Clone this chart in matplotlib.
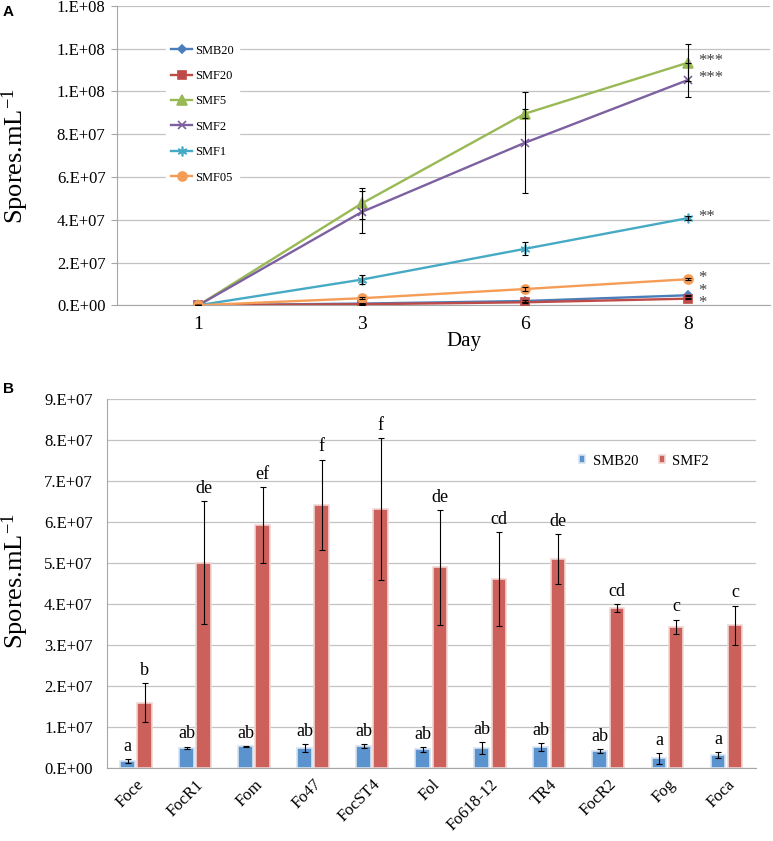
import matplotlib.pyplot as plt
import numpy as np

plt.rcParams['font.family'] = 'Liberation Serif'
plt.rcParams['mathtext.default'] = 'regular'

# panel A - spores per day
days = ['1', '3', '6', '8']
smb20 = [0, 0.08e7, 0.20e7, 0.47e7]
smf20 = [0, 0.05e7, 0.14e7, 0.31e7]
smf5 = [0, 4.76e7, 8.96e7, 11.35e7]
smf2 = [0, 4.36e7, 7.60e7, 10.54e7]
smf1 = [0, 1.20e7, 2.64e7, 4.08e7]
smf05 = [0, 0.33e7, 0.76e7, 1.22e7]

smb20_err = [0, 0.02e7, 0.03e7, 0.03e7]
smf20_err = [0, 0.02e7, 0.03e7, 0.03e7]
smf5_err = [0, 0.72e7, 0.20e7, 0.85e7]
smf2_err = [0, 1.00e7, 2.36e7, 0.78e7]
smf1_err = [0, 0.22e7, 0.30e7, 0.10e7]
smf05_err = [0, 0.05e7, 0.08e7, 0.05e7]

stars = ['*', '*', '***', '***', '**', '*']
star_dy = [3, -3, 1, 1, 1, 1]
a_names = ['SMB20', 'SMF20', 'SMF5', 'SMF2', 'SMF1', 'SMF05']
a_yticklabels = ['0.E+00', '2.E+07', '4.E+07', '6.E+07', '8.E+07', '1.E+08', '1.E+08', '1.E+08']

# panel B - strains
strains = ['Foce', 'FocR1', 'Fom', 'Fo47', 'FocST4', 'Fol', 'Fo618-12', 'TR4', 'FocR2', 'Fog', 'Foca']
b_smb20 = [0.17e7, 0.50e7, 0.54e7, 0.50e7, 0.54e7, 0.46e7, 0.50e7, 0.52e7, 0.42e7, 0.24e7, 0.32e7]
b_smb20_err = [0.05e7, 0.03e7, 0.01e7, 0.10e7, 0.05e7, 0.05e7, 0.14e7, 0.10e7, 0.04e7, 0.14e7, 0.07e7]
b_smf2 = [1.60e7, 5.02e7, 5.93e7, 6.43e7, 6.33e7, 4.90e7, 4.62e7, 5.10e7, 3.91e7, 3.45e7, 3.49e7]
b_smf2_err = [0.48e7, 1.50e7, 0.93e7, 1.10e7, 1.73e7, 1.40e7, 1.15e7, 0.61e7, 0.10e7, 0.18e7, 0.48e7]
letters_smb20 = ['a', 'ab', 'ab', 'ab', 'ab', 'ab', 'ab', 'ab', 'ab', 'a', 'a']
letters_smf2 = ['b', 'de', 'ef', 'f', 'f', 'de', 'cd', 'de', 'cd', 'c', 'c']
b_yticklabels = ['0.E+00', '1.E+07', '2.E+07', '3.E+07', '4.E+07', '5.E+07', '6.E+07', '7.E+07', '8.E+07', '9.E+07']

grid_col = '#C3C3C3'
axis_col = '#A6A6A6'

fig = plt.figure(figsize=(7.73, 8.41), dpi=100)
ax1 = fig.add_axes([0.151, 0.637, 0.845, 0.356])
ax2 = fig.add_axes([0.138, 0.0864, 0.840, 0.4387])

# ---- A ----
x = np.arange(len(days))
series = [
    (smb20, smb20_err, '#4A7EBB', 'D', 4.5),
    (smf20, smf20_err, '#BE4B48', 's', 6),
    (smf5, smf5_err, '#98B954', '^', 6.5),
    (smf2, smf2_err, '#7D60A0', 'x', 6),
    (smf1, smf1_err, '#46AAC5', (6, 2, 0), 7),
    (smf05, smf05_err, '#F59D56', 'o', 6.5),
]
for i, (vals, err, col, mk, ms) in enumerate(series):
    ax1.plot(x, vals, color=col, marker=mk, ms=ms, mec=col, mfc=col, mew=1.2,
             lw=1.7, label=a_names[i], zorder=3 + i * 0.1)
    ax1.errorbar(x, vals, yerr=err, fmt='none', ecolor='black', elinewidth=0.8,
                 capsize=2.5, capthick=0.8, zorder=4)
    ax1.annotate(stars[i], (x[-1], vals[-1]), xytext=(7, star_dy[i]), textcoords='offset points',
                 ha='left', va='center', fontsize=12, color='#404040')

ax1.set_xlim(-0.5, 3.5)
ax1.set_ylim(0, 1.4e8)
ax1.set_yticks(np.arange(0, 1.41e8, 2e7))
ax1.set_yticklabels(a_yticklabels, fontsize=12)
ax1.set_xticks(x)
ax1.set_xticklabels(days, fontsize=14)
ax1.tick_params(axis='x', length=0, pad=8)
ax1.tick_params(axis='y', length=4, color=axis_col, pad=4)
ax1.yaxis.grid(True, color=grid_col, lw=0.9)
ax1.set_axisbelow(True)
for s in ['top', 'right']:
    ax1.spines[s].set_visible(False)
for s in ['left', 'bottom']:
    ax1.spines[s].set_color(axis_col)
ax1.set_ylabel('Spores.mL$^{-1}$', fontsize=19)
ax1.yaxis.set_label_coords(-0.132, 0.5)
ax1.set_xlabel('Day', fontsize=15)
ax1.xaxis.set_label_coords(0.531, -0.088)
leg = ax1.legend(loc='upper left', bbox_to_anchor=(0.066, 0.908), fontsize=9,
                 frameon=True, facecolor='white', edgecolor='white', framealpha=1,
                 fancybox=False, handlelength=1.7, handletextpad=0.2,
                 labelspacing=1.07, borderpad=0.4)

# ---- B ----
xb = np.arange(len(strains))
w = 0.25
err_kw = dict(ecolor='black', elinewidth=0.8, capsize=2.5, capthick=0.8)
ax2.bar(xb - 0.145, b_smb20, w, color='#5A93CE', edgecolor='#D8E4F2', lw=1.2,
        yerr=b_smb20_err, error_kw=err_kw, label='SMB20')
ax2.bar(xb + 0.145, b_smf2, w, color='#CC615C', edgecolor='#F1D6D5', lw=1.2,
        yerr=b_smf2_err, error_kw=err_kw, label='SMF2')
for i in range(len(strains)):
    ax2.annotate(letters_smb20[i], (xb[i] - 0.145, b_smb20[i] + b_smb20_err[i]),
                 xytext=(0, 3), textcoords='offset points', ha='center', va='bottom', fontsize=13)
    ax2.annotate(letters_smf2[i], (xb[i] + 0.145, b_smf2[i] + b_smf2_err[i]),
                 xytext=(0, 3), textcoords='offset points', ha='center', va='bottom', fontsize=13)

ax2.set_xlim(-0.5, len(strains) - 0.5)
ax2.set_ylim(0, 9e7)
ax2.set_yticks(np.arange(0, 9.1e7, 1e7))
ax2.set_yticklabels(b_yticklabels, fontsize=12)
ax2.set_xticks(xb)
ax2.set_xticklabels(strains, fontsize=12, rotation=45, ha='right', rotation_mode='anchor')
ax2.tick_params(axis='x', length=0, pad=6)
ax2.tick_params(axis='y', length=0, pad=10)
ax2.yaxis.grid(True, color=grid_col, lw=0.9)
ax2.set_axisbelow(True)
for s in ['top', 'right']:
    ax2.spines[s].set_visible(False)
for s in ['left', 'bottom']:
    ax2.spines[s].set_color(axis_col)
ax2.set_ylabel('Spores.mL$^{-1}$', fontsize=19)
ax2.yaxis.set_label_coords(-0.117, 0.507)
ax2.legend(loc='upper left', bbox_to_anchor=(0.707, 0.886), ncol=2, frameon=False,
           fontsize=10.5, handlelength=0.45, handleheight=0.45, handletextpad=0.5,
           columnspacing=1.4)

fig.text(0.004, 0.994, 'A', fontsize=11, fontweight='bold', family='Liberation Sans', va='top')
fig.text(0.004, 0.546, 'B', fontsize=11, fontweight='bold', family='Liberation Sans', va='top')

fig.savefig('out.png', dpi=100)
